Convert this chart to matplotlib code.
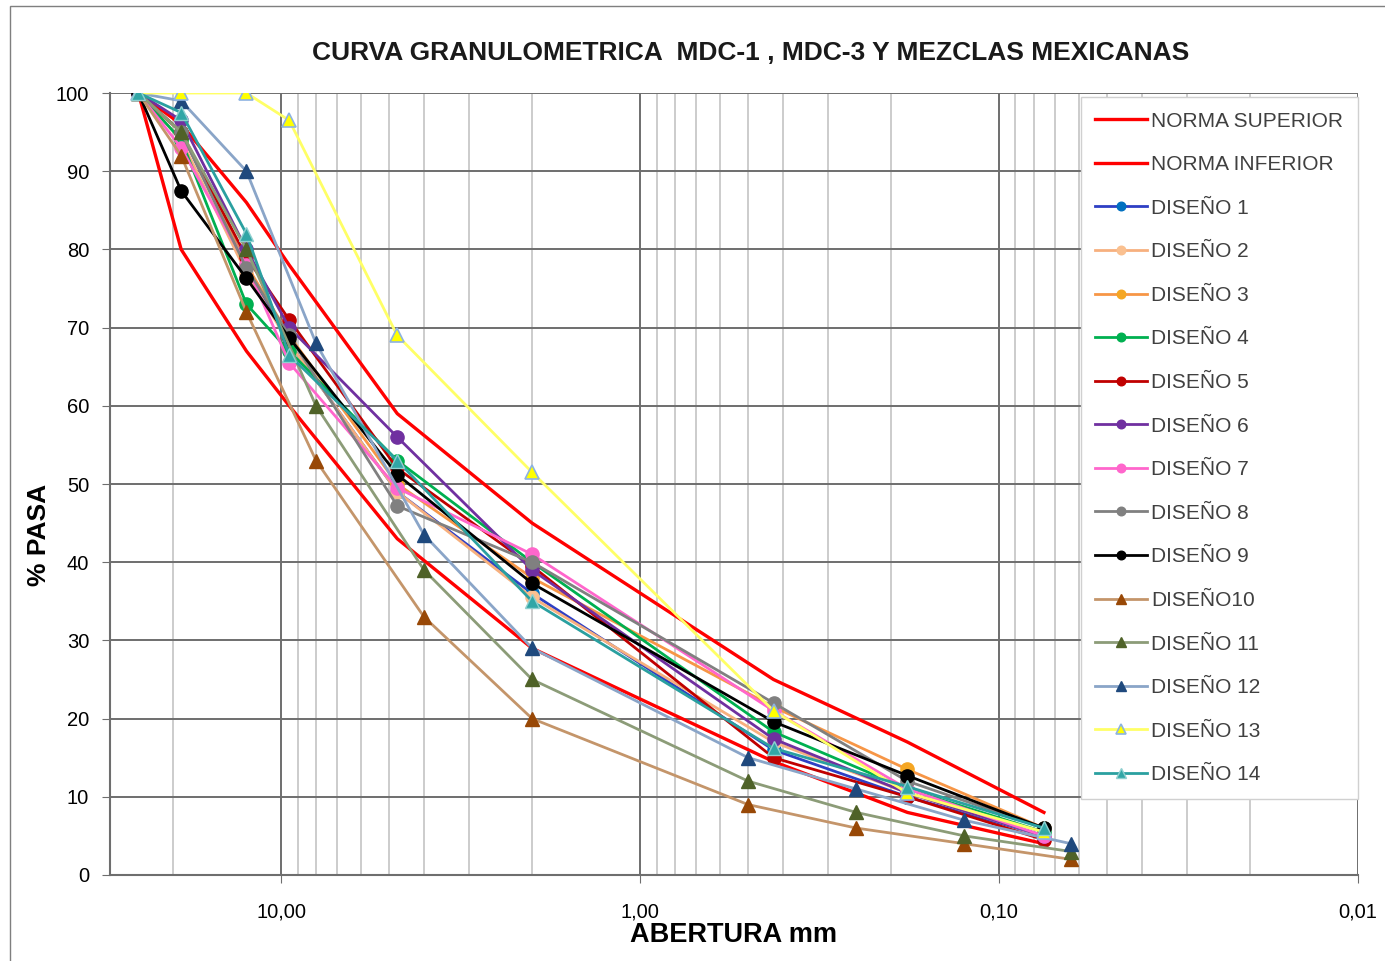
import matplotlib.pyplot as plt
import matplotlib.patches as mpatches
from matplotlib.ticker import FixedLocator, NullFormatter

plt.rcParams['font.family'] = ['Liberation Sans', 'DejaVu Sans']

# Tamices (mm): serie ASTM para normas y disenos 1-9, 13, 14; serie UNE para 10-12
tamiz_a = [25, 19, 12.5, 9.5, 4.75, 2.0, 0.425, 0.18, 0.075]
tamiz_b = [25, 19, 12.5, 8, 4, 2, 0.5, 0.25, 0.125, 0.063]

norma_sup = [100, 96, 86, 78, 59, 45, 25, 17, 8]
norma_inf = [100, 80, 67, 60, 43, 29, 14.5, 8, 4]

diseno_1 = [100, 95, 78, 68, 49, 36, 16, 10, 5]
diseno_2 = [100, 94, 77, 68, 49, 35.5, 17, 10.5, 5]
diseno_3 = [100, 95, 78, 69, 50, 38, 21.5, 13.5, 6]
diseno_4 = [100, 94, 73, 67, 53, 40, 18.3, 11, 5.5]
diseno_5 = [100, 95, 79, 71, 52, 39.5, 15, 10, 4.5]
diseno_6 = [100, 96.5, 80, 70, 56, 39, 17.4, 10.5, 5]
diseno_7 = [100, 93, 78, 65.5, 49.5, 41, 21, 11, 5]
diseno_8 = [100, 95, 77.6, 69, 47.2, 40, 22, 12, 6]
diseno_9 = [100, 87.5, 76.3, 68.7, 51.2, 37.3, 19.6, 12.7, 6]
diseno_10 = [100, 92, 72, 53, 33, 20, 9, 6, 4, 2]
diseno_11 = [100, 95, 80, 60, 39, 25, 12, 8, 5, 3]
diseno_12 = [100, 99, 90, 68, 43.5, 29, 15, 11, 7, 4]
diseno_13 = [100, 100, 100, 96.5, 69, 51.5, 21, 10.5, 5.5]
diseno_14 = [100, 97.5, 82, 66.5, 53, 35, 16.2, 11.3, 6]

fig = plt.figure(figsize=(13.85, 9.61), dpi=100)
ax = fig.add_axes([0.0794, 0.0895, 0.9011, 0.8137])

# marco del grafico
fig.patches.append(mpatches.Rectangle((0.0075, -0.01), 1.0, 1.004, transform=fig.transFigure,
                                      fill=False, edgecolor='#7f7f7f', linewidth=1.0))

ax.set_xscale('log')
ax.set_xlim(30, 0.01)
ax.set_ylim(0, 100)

ax.xaxis.set_major_locator(FixedLocator([10, 1, 0.1, 0.01]))
ax.set_xticklabels(['10,00', '1,00', '0,10', '0,01'])
minors = [m * d for d in (0.01, 0.1, 1, 10) for m in range(2, 10) if m * d < 30]
ax.xaxis.set_minor_locator(FixedLocator(minors))
ax.xaxis.set_minor_formatter(NullFormatter())
ax.set_yticks(range(0, 101, 10))

ax.grid(which='minor', axis='x', color='#c8c8c8', linewidth=1.3)
ax.grid(which='major', axis='x', color='#6e6e6e', linewidth=1.4)
ax.grid(which='major', axis='y', color='#6e6e6e', linewidth=1.4)
ax.set_axisbelow(True)

for s in ['top', 'right']:
    ax.spines[s].set_visible(False)
for s in ['left', 'bottom']:
    ax.spines[s].set_color('#6e6e6e')
    ax.spines[s].set_linewidth(1.5)
ax.tick_params(which='major', length=6, color='#6e6e6e', labelsize=14.5, pad=9)
ax.tick_params(axis='x', which='major', pad=14)
ax.tick_params(which='minor', length=0)

ax.plot(tamiz_a, norma_sup, color='#ff0000', lw=2.4, label='NORMA SUPERIOR')
ax.plot(tamiz_a, norma_inf, color='#ff0000', lw=2.4, label='NORMA INFERIOR')

circ = dict(marker='o', ms=9.5, lw=2.0)
ax.plot(tamiz_a, diseno_1, color='#2e3fc4', mfc='#0070c0', mec='#0070c0', label='DISEÑO 1', **circ)
ax.plot(tamiz_a, diseno_2, color='#f7b07e', mfc='#fac090', mec='#fac090', label='DISEÑO 2', **circ)
ax.plot(tamiz_a, diseno_3, color='#f79646', mfc='#f5a623', mec='#f5a623', label='DISEÑO 3', **circ)
ax.plot(tamiz_a, diseno_4, color='#00b050', mfc='#00b050', mec='#00b050', label='DISEÑO 4', **circ)
ax.plot(tamiz_a, diseno_5, color='#c00000', mfc='#c00000', mec='#c00000', label='DISEÑO 5', **circ)
ax.plot(tamiz_a, diseno_6, color='#7030a0', mfc='#7030a0', mec='#7030a0', label='DISEÑO 6', **circ)
ax.plot(tamiz_a, diseno_7, color='#ff66cc', mfc='#ff66cc', mec='#ff66cc', label='DISEÑO 7', **circ)
ax.plot(tamiz_a, diseno_8, color='#808080', mfc='#808080', mec='#808080', label='DISEÑO 8', **circ)
ax.plot(tamiz_a, diseno_9, color='#000000', mfc='#000000', mec='#000000', label='DISEÑO 9', **circ)

tri = dict(marker='^', ms=10.5, lw=2.0)
ax.plot(tamiz_b, diseno_10, color='#c4956a', mfc='#984806', mec='#984806', label='DISEÑO10', **tri)
ax.plot(tamiz_b, diseno_11, color='#8c9c78', mfc='#4f6228', mec='#4f6228', label='DISEÑO 11', **tri)
ax.plot(tamiz_b, diseno_12, color='#8aa5c8', mfc='#1f497d', mec='#1f497d', label='DISEÑO 12', **tri)
ax.plot(tamiz_a, diseno_13, color='#ffff66', mfc='#ffff00', mec='#8db3e2', mew=1.2,
        label='DISEÑO 13', **tri)
ax.plot(tamiz_a, diseno_14, color='#2aa0a0', mfc='#31a6a6', mec='#8fd0d0', mew=1.0,
        label='DISEÑO 14', **tri)

leg = ax.legend(loc='upper right', bbox_to_anchor=(1.0, 0.995), fontsize=15,
                frameon=True, fancybox=False, framealpha=1, edgecolor='#d0d0d0',
                handlelength=2.5, handletextpad=0.2, labelspacing=1.18,
                borderpad=0.7, borderaxespad=0, markerscale=0.65)
leg.get_frame().set_linewidth(1.0)
for t in leg.get_texts():
    t.set_color('#404040')

fig.text(0.542, 0.945, 'CURVA GRANULOMETRICA  MDC-1 , MDC-3 Y MEZCLAS MEXICANAS',
         ha='center', va='center', fontsize=19, fontweight='bold', color='#1a1a1a')
ax.set_xlabel('ABERTURA mm', fontsize=19.5, fontweight='bold', labelpad=0)
ax.set_ylabel('% PASA', fontsize=19, fontweight='bold')
ax.yaxis.set_label_coords(-0.047, 0.435)

fig.savefig('out.png', dpi=100)
